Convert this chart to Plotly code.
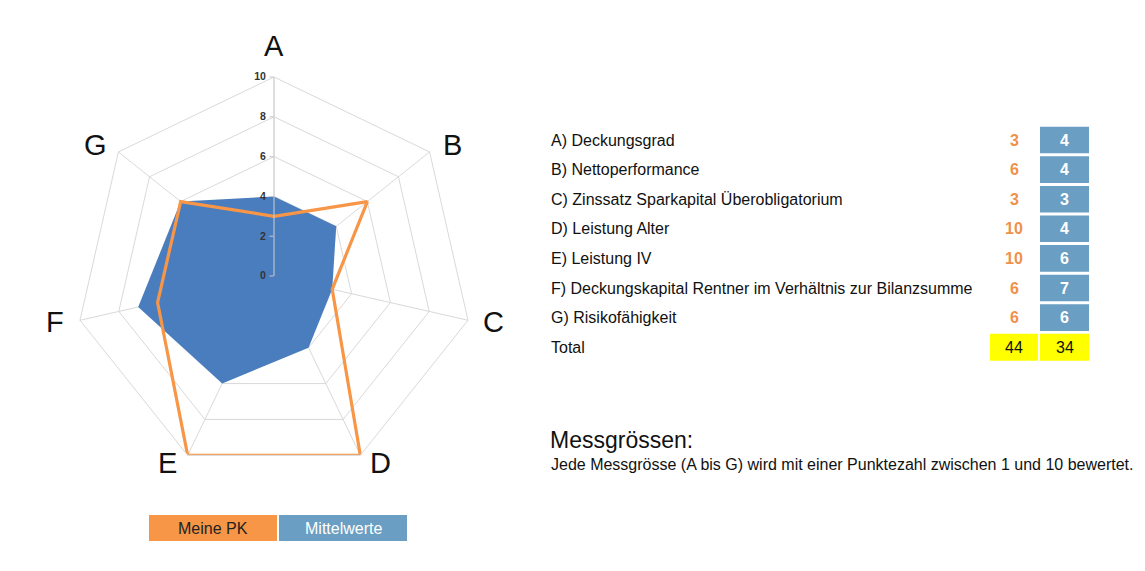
import math
import plotly.graph_objects as go

# ---- data ----
axes_labels = ["A", "B", "C", "D", "E", "F", "G"]
meine_pk = [3, 6, 3, 10, 10, 6, 6]
mittelwerte = [4, 4, 3, 4, 6, 7, 6]
row_labels = [
    "A) Deckungsgrad",
    "B) Nettoperformance",
    "C) Zinssatz Sparkapital Überobligatorium",
    "D) Leistung Alter",
    "E) Leistung IV",
    "F) Deckungskapital Rentner im Verhältnis zur Bilanzsumme",
    "G) Risikofähigkeit",
]
total_label = "Total"
legend_names = ["Meine PK", "Mittelwerte"]
title_text = "Messgrössen:"
subtitle_text = "Jede Messgrösse (A bis G) wird mit einer Punktezahl zwischen 1 und 10 bewertet."

# ---- styling / layout ----
OFF = 8                      # page body margin
W, H = 1145 - OFF, 571 - OFF
ORANGE = "#f79646"
ORANGE_TXT = "#f0904a"
BLUE_FILL = "#4a7dbe"
BLUE_CELL = "#6a9ec2"
YELLOW = "#ffff00"
FONT = "Liberation Sans, Arial, sans-serif"


def px(x):
    return (x - OFF) / W


def py(y):
    return 1 - (y - OFF) / H


cx, cy, R = 274, 276, 199
# label offsets (pixels) from each outer vertex, layout only
label_offsets = [(0, -31), (23, -7), (25, 2), (20, 8), (-20, 8), (-25, 2), (-23, -7)]

fig = go.Figure()
fig.add_trace(go.Scatterpolar(
    r=mittelwerte + mittelwerte[:1],
    theta=axes_labels + axes_labels[:1],
    mode="lines",
    fill="toself",
    fillcolor=BLUE_FILL,
    line=dict(width=0, color=BLUE_FILL),
    name=legend_names[1],
    hoverinfo="skip",
))
fig.add_trace(go.Scatterpolar(
    r=meine_pk + meine_pk[:1],
    theta=axes_labels + axes_labels[:1],
    mode="lines",
    line=dict(width=3.2, color=ORANGE),
    name=legend_names[0],
    hoverinfo="skip",
))

fig.update_layout(
    width=W, height=H,
    margin=dict(l=0, r=0, t=0, b=0),
    paper_bgcolor="white",
    plot_bgcolor="white",
    showlegend=False,
    font=dict(family=FONT),
    polar=dict(
        domain=dict(x=[px(cx - R), px(cx + R)], y=[py(cy + R), py(cy - R)]),
        gridshape="linear",
        bgcolor="white",
        radialaxis=dict(
            range=[0, 10], dtick=2, angle=90, tickangle=90,
            side="counterclockwise",
            showline=True, linecolor="#d0d0d0", linewidth=1,
            gridcolor="#d9d9d9", gridwidth=1,
            ticks="outside", ticklen=4, tickcolor="#c8c8c8", tickwidth=1,
            tickfont=dict(size=10.5, color="#333333", family=FONT, weight="bold"),
        ),
        angularaxis=dict(
            rotation=90, direction="clockwise",
            showline=True, linecolor="#d9d9d9", linewidth=1,
            gridcolor="#d9d9d9",
            ticks="", showticklabels=False,
        ),
    ),
)

shapes = []
annotations = []

# axis category labels around the radar
n = len(axes_labels)
for k, lab in enumerate(axes_labels):
    ang = math.radians(k * 360 / n)
    vx = cx + R * math.sin(ang)
    vy = cy - R * math.cos(ang)
    ox, oy = label_offsets[k]
    annotations.append(dict(x=px(vx + ox), y=py(vy + oy), xref="paper", yref="paper",
                            text=lab, showarrow=False, xanchor="center", yanchor="middle",
                            font=dict(size=29, color="#111111", family=FONT)))

row_y0 = 140
row_step = 29.6
for i, lab in enumerate(row_labels):
    yc = row_y0 + i * row_step
    annotations.append(dict(x=px(549), y=py(yc), xref="paper", yref="paper",
                            text=lab, showarrow=False, xanchor="left", yanchor="middle",
                            font=dict(size=16, color="#111111", family=FONT)))
    annotations.append(dict(x=px(1014), y=py(yc), xref="paper", yref="paper",
                            text=str(meine_pk[i]), showarrow=False, xanchor="center", yanchor="middle",
                            font=dict(size=16, color=ORANGE_TXT, family=FONT, weight="bold")))
    shapes.append(dict(type="rect", xref="paper", yref="paper",
                       x0=px(1040), x1=px(1089), y0=py(yc + 13.3), y1=py(yc - 13.3),
                       fillcolor=BLUE_CELL, line=dict(width=0), layer="below"))
    annotations.append(dict(x=px(1064.5), y=py(yc), xref="paper", yref="paper",
                            text=str(mittelwerte[i]), showarrow=False, xanchor="center", yanchor="middle",
                            font=dict(size=16, color="white", family=FONT, weight="bold")))

yt = row_y0 + len(row_labels) * row_step
annotations.append(dict(x=px(549), y=py(yt), xref="paper", yref="paper",
                        text=total_label, showarrow=False, xanchor="left", yanchor="middle",
                        font=dict(size=16, color="#111111", family=FONT)))
for (x0, x1, val) in [(990, 1038, sum(meine_pk)), (1040, 1089, sum(mittelwerte))]:
    shapes.append(dict(type="rect", xref="paper", yref="paper",
                       x0=px(x0), x1=px(x1), y0=py(yt + 13.5), y1=py(yt - 13.5),
                       fillcolor=YELLOW, line=dict(width=0), layer="below"))
    annotations.append(dict(x=px((x0 + x1) / 2), y=py(yt), xref="paper", yref="paper",
                            text=str(val), showarrow=False, xanchor="center", yanchor="middle",
                            font=dict(size=16, color="#111111", family=FONT)))

annotations.append(dict(x=px(548), y=py(440), xref="paper", yref="paper",
                        text=title_text, showarrow=False, xanchor="left", yanchor="middle",
                        font=dict(size=23, color="#111111", family=FONT)))
annotations.append(dict(x=px(549), y=py(464), xref="paper", yref="paper",
                        text=subtitle_text, showarrow=False, xanchor="left", yanchor="middle",
                        font=dict(size=16, color="#111111", family=FONT)))

# legend boxes
for (x0, x1, col, txtcol, name) in [(149, 277, ORANGE, "#222222", legend_names[0]),
                                     (279, 407, BLUE_CELL, "white", legend_names[1])]:
    shapes.append(dict(type="rect", xref="paper", yref="paper",
                       x0=px(x0), x1=px(x1), y0=py(541), y1=py(515),
                       fillcolor=col, line=dict(width=0)))
    annotations.append(dict(x=px((x0 + x1) / 2), y=py(528.5), xref="paper", yref="paper",
                            text=name, showarrow=False, xanchor="center", yanchor="middle",
                            font=dict(size=16, color=txtcol, family=FONT)))

fig.update_layout(shapes=shapes, annotations=annotations)
fig.write_html("out.html")
